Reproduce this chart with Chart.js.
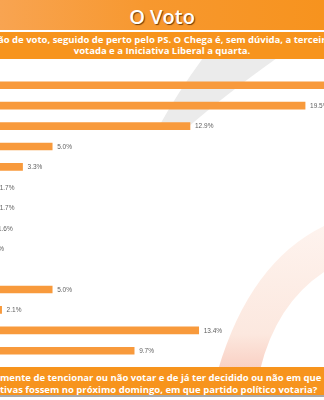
<!DOCTYPE html>
<html>
<head>
<meta charset="utf-8">
<script src="https://cdn.jsdelivr.net/npm/chart.js@4/dist/chart.umd.min.js"></script>
<style>
  html, body { margin: 0; padding: 0; background: #fff; }
  #page { position: relative; width: 324px; height: 400px; overflow: hidden; background: #fff; }
  .band { position: absolute; left: 0; width: 324px; }
  #head { top: 0; height: 30px; background: linear-gradient(90deg, #f8a451 0%, #f7982f 45%, #f7931e 100%); }
  #sub { top: 32px; height: 27px; background: #f7941d; }
  #foot { top: 367px; height: 28px; background: #f7941d; }
  #footline { top: 395px; height: 2px; background: #a9a9a9; }
  #title { position: absolute; top: 0; left: 0; width: 324px; height: 30px;
    text-align: center; color: #fff; font: 600 20px "Open Sans", sans-serif; line-height: 33px;
    text-shadow: 1px 1px 1px rgba(90,45,0,0.85); }
  .txt { position: absolute; white-space: nowrap; color: #fff; font: 700 9.5px "Open Sans", sans-serif; line-height: 11px; }
  .pre { position: absolute; right: 100%; top: 0; }
  #wm { position: absolute; left: 0; top: 0; }
  #cv { position: absolute; left: -35px; top: 75px; }
</style>
</head>
<body>
<div id="page">
  <svg id="wm" width="324" height="400">
    <defs>
      <linearGradient id="pk" x1="0" y1="0" x2="0" y2="1">
        <stop offset="0" stop-color="#fef3ee"/>
        <stop offset="0.75" stop-color="#fce8df"/>
        <stop offset="1" stop-color="#f9cfc2"/>
      </linearGradient>
    </defs>
    <path d="M 203 58 L 277 58 Q 225 95 187 128 L 158 128 Q 178 92 203 58 Z" fill="#ebebeb"/>
    <path d="M 324 226 Q 250 262 218 370 L 260 370 Q 276 304 324 272 Z" fill="url(#pk)"/>
  </svg>
  <canvas id="cv" width="436" height="286"></canvas>
  <div class="band" id="head"></div>
  <div id="title">O Voto</div>
  <div class="band" id="sub"></div>
  <div class="txt" style="left:-2px; top:34px;"><span class="pre">A AD lidera destacada a intenç</span>ão de voto, seguido de perto pelo PS. O Chega é, sem dúvida, a terceira força mais</div>
  <div class="txt" style="left:0; width:324px; top:45px; text-align:center;">votada e a Iniciativa Liberal a quarta.</div>
  <div class="band" id="foot"></div>
  <div class="band" id="footline"></div>
  <div class="txt" style="left:0; top:372px;"><span class="pre">Independente</span>mente de tencionar ou não votar e de já ter decidido ou não em que partido votar, se as eleições</div>
  <div class="txt" style="left:0; top:384px;"><span class="pre">legisla</span>tivas fossem no próximo domingo, em que partido político votaria?</div>
</div>
<script>
// partidos / respostas (rotulos ficam fora da imagem)
const categories = [
  "AD", "PS", "Chega", "IL", "BE", "CDU", "Livre", "PAN", "ADN", "JPP",
  "Outro partido", "Branco / nulo", "Não sabe", "Não responde"
];
// percentagens
const values = [22.6, 19.5, 12.9, 5.0, 3.3, 1.7, 1.7, 1.6, 1.1, 0.4, 5.0, 2.1, 13.4, 9.7];
const xMax = 25;

// escreve o valor ao lado de cada barra
const valueLabels = {
  id: "valueLabels",
  afterDatasetsDraw(chart) {
    const ctx = chart.ctx;
    const meta = chart.getDatasetMeta(0);
    ctx.save();
    ctx.font = '6.5px "Liberation Sans", Arial, sans-serif';
    ctx.fillStyle = "#5f5f5f";
    ctx.textBaseline = "middle";
    ctx.textAlign = "left";
    meta.data.forEach(function (bar, i) {
      ctx.fillText(values[i].toFixed(1) + "%", bar.x + 5, bar.y + 0.5);
    });
    ctx.restore();
  }
};

new Chart(document.getElementById("cv").getContext("2d"), {
  type: "bar",
  data: {
    labels: categories,
    datasets: [{
      data: values,
      backgroundColor: "#f89a3c",
      borderWidth: 0,
      barThickness: 7
    }]
  },
  options: {
    indexAxis: "y",
    responsive: false,
    animation: false,
    devicePixelRatio: 1,
    layout: { padding: 0 },
    plugins: {
      legend: { display: false },
      tooltip: { enabled: false }
    },
    scales: {
      x: { display: false, min: 0, max: xMax },
      y: { display: false }
    }
  },
  plugins: [valueLabels]
});
</script>
</body>
</html>
